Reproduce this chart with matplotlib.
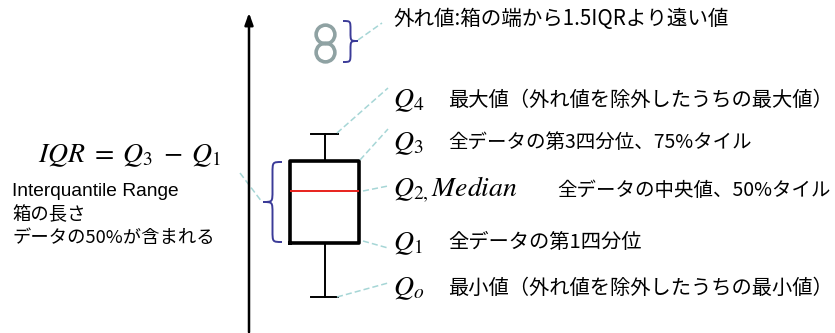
import matplotlib
matplotlib.use("Agg")
import matplotlib.pyplot as plt
from matplotlib.path import Path
from matplotlib.patches import PathPatch

plt.rcParams['mathtext.fontset'] = 'stix'
JP = ['Noto Sans CJK JP', 'DejaVu Sans']

# box plot statistics (arbitrary units)
whisker_low = 1.0
q1 = 3.0
median = 4.9
q3 = 6.0
whisker_high = 7.0
outliers = [10.0, 10.67]

# labels on the right
q_labels = [r'$Q_4$', r'$Q_3$', r'$Q_{2,}Median$', r'$Q_1$', r'$Q_o$']
q_notes = ['最大値（外れ値を除外したうちの最大値）',
           '全データの第3四分位、75%タイル',
           '全データの中央値、50%タイル',
           '全データの第1四分位',
           '最小値（外れ値を除外したうちの最小値）']
outlier_note = '外れ値:箱の端から1.5IQRより遠い値'
iqr_formula = r'$IQR\;=\;Q_3\;-\;Q_1$'
iqr_notes = ['Interquantile Range', '箱の長さ', 'データの50%が含まれる']

W, H = 835, 333
fig = plt.figure(figsize=(W / 100, H / 100), dpi=100)

# main axes: box plot in data units
ax = fig.add_axes([0, 0, 1, 1])
ax.set_xlim(0, W)
ax.set_ylim(-0.32, 11.92)
ax.axis('off')
stats = [dict(whislo=whisker_low, q1=q1, med=median, q3=q3,
              whishi=whisker_high, fliers=outliers)]
ax.bxp(stats, positions=[324.5], widths=69, capwidths=[27],
       boxprops=dict(color='black', linewidth=2.6),
       whiskerprops=dict(color='black', linewidth=1.4),
       capprops=dict(color='black', linewidth=1.4),
       medianprops=dict(color='#e8211c', linewidth=1.4),
       flierprops=dict(marker='o', markersize=13.5, markerfacecolor='none',
                       markeredgecolor='#8fa2a3', markeredgewidth=2.6),
       manage_ticks=False)

# overlay in pixel coords (y down) for annotations
ov = fig.add_axes([0, 0, 1, 1], facecolor='none')
ov.set_xlim(0, W)
ov.set_ylim(H, 0)
ov.axis('off')

# vertical axis arrow
ov.annotate('', xy=(249, 10), xytext=(249, 335),
            arrowprops=dict(arrowstyle='-|>,head_length=0.7,head_width=0.25',
                            color='black', lw=1.8))


def brace(x_end, y0, y1, w, ym=None, color='#3b3b98'):
    # curly brace; w < 0 points left, w > 0 points right
    if ym is None:
        ym = (y0 + y1) / 2
    xs = x_end + w / 2
    xt = x_end + w
    r = abs(w) * 0.6
    verts = [(x_end, y0), (xs, y0), (xs, y0), (xs, y0 + r),
             (xs, ym - r),
             (xs, ym), (xs, ym), (xt, ym),
             (xs, ym), (xs, ym), (xs, ym + r),
             (xs, y1 - r),
             (xs, y1), (xs, y1), (x_end, y1)]
    codes = [Path.MOVETO, Path.CURVE4, Path.CURVE4, Path.CURVE4,
             Path.LINETO,
             Path.CURVE4, Path.CURVE4, Path.CURVE4,
             Path.CURVE4, Path.CURVE4, Path.CURVE4,
             Path.LINETO,
             Path.CURVE4, Path.CURVE4, Path.CURVE4]
    ov.add_patch(PathPatch(Path(verts, codes), fill=False, color=color, lw=1.4))


brace(343, 21, 62, 15, ym=41)
brace(282, 162, 242, -19, ym=202)

leader = dict(color='#a6d6d6', lw=1.1, linestyle=(0, (4, 2)))
for (xa, ya), (xb, yb) in [((358, 40), (382, 23)),
                           ((337, 133), (388, 88)),
                           ((360, 160), (388, 129)),
                           ((363, 191), (388, 186)),
                           ((363, 241), (388, 248)),
                           ((337, 297), (388, 283)),
                           ((240, 173), (262, 202))]:
    ov.plot([xa, xb], [ya, yb], **leader)

# right-hand labels
ov.text(393, 19, outlier_note, fontsize=14.8, family=JP, va='center', ha='left')
label_y = [100, 143, 190, 243, 288]
note_x = [448, 448, 557, 448, 448]
note_size = [14.6, 14, 14, 14.6, 14.6]
for lab, note, y, nx, fs in zip(q_labels, q_notes, label_y, note_x, note_size):
    ov.text(393, y, lab, fontsize=20, va='center', ha='left')
    ov.text(nx, y, note, fontsize=fs, family=JP, va='center', ha='left')

# left-hand labels
ov.text(38, 155, iqr_formula, fontsize=20, va='center', ha='left')
ov.text(12, 192, iqr_notes[0], fontsize=13.8, family=['Liberation Sans'] + JP,
        va='center', ha='left')
ov.text(12, 215, iqr_notes[1], fontsize=13.2, family=JP, va='center', ha='left')
ov.text(12, 238, iqr_notes[2], fontsize=13.2, family=JP, va='center', ha='left')

fig.savefig('out.png', dpi=100, facecolor='white')
